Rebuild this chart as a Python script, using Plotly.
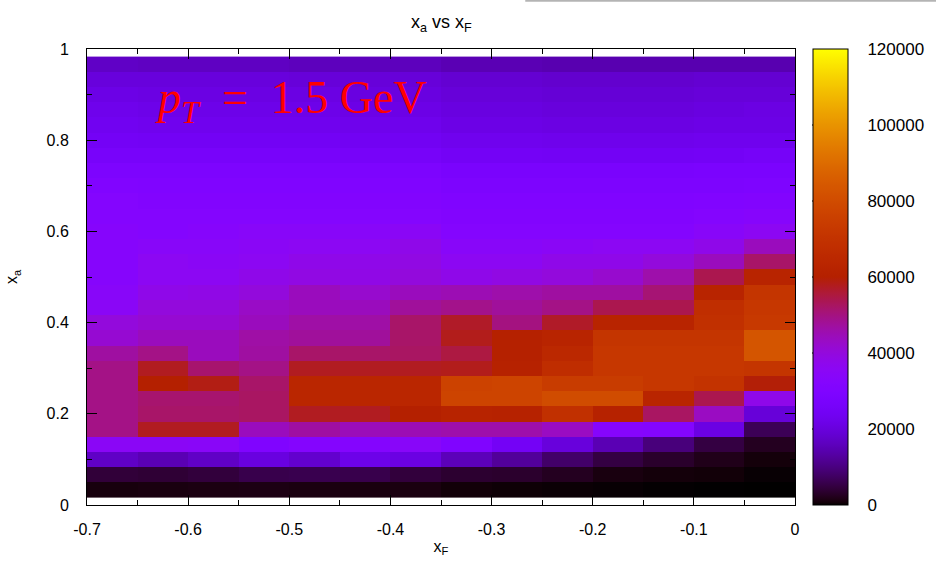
import numpy as np
import plotly.graph_objects as go

# ---------------- data ----------------
xF_centers = [-0.675, -0.625, -0.575, -0.525, -0.475, -0.425, -0.375,
              -0.325, -0.275, -0.225, -0.175, -0.125, -0.075, -0.025]
xa_centers = [k / 30 for k in range(1, 30)]

# counts, rows from x_a = 1/30 (bottom) to 29/30 (top), columns along x_F
counts = [
    [1000, 1100, 1300, 1400, 1200, 1100, 1200, 600, 470, 360, 265, 120, 66, 30],
    [4300, 4000, 4500, 5800, 6000, 5800, 4500, 3600, 3400, 2400, 1100, 740, 600, 265],
    [17000, 15000, 17000, 20500, 18000, 22000, 21000, 15600, 12400, 8000, 5000, 3300, 1900, 740],
    [35000, 35000, 34500, 30000, 32000, 32000, 34000, 30000, 24800, 20000, 15000, 9600, 5000, 2400],
    [49500, 57500, 57500, 44000, 47000, 44500, 45000, 46000, 46000, 43500, 33000, 32000, 21000, 6600],
    [49500, 52000, 52000, 52500, 57500, 57500, 60000, 62000, 61000, 69000, 61000, 52500, 43500, 19500],
    [49500, 51500, 51500, 52500, 63500, 63500, 63500, 77500, 77500, 80000, 80000, 63000, 54000, 38000],
    [49500, 60000, 58500, 52000, 63500, 63500, 63500, 76500, 77500, 74000, 74000, 72000, 70000, 59500],
    [49500, 57500, 51500, 49500, 57500, 57500, 57500, 58000, 61000, 67000, 72000, 72000, 72000, 71000],
    [47000, 49500, 44000, 47000, 52000, 52000, 52500, 55000, 60500, 65000, 72000, 72000, 72000, 83000],
    [41500, 44000, 44000, 46500, 47500, 47500, 52000, 58000, 60500, 62500, 71000, 71000, 71000, 83000],
    [40000, 41500, 41500, 44000, 46500, 46500, 52000, 57000, 50000, 57000, 62500, 62500, 69000, 73000],
    [35000, 40000, 40000, 43000, 44000, 44000, 47500, 49000, 47500, 49500, 54000, 54000, 68000, 72000],
    [34000, 38000, 38500, 40000, 44000, 42000, 44000, 45000, 46000, 47000, 47000, 51000, 62500, 71000],
    [33000, 36000, 36000, 38000, 39000, 38500, 40000, 38000, 39000, 40000, 42000, 46000, 54000, 62500],
    [33000, 36000, 35000, 36000, 38000, 38000, 39000, 36000, 36000, 38000, 38000, 40000, 44000, 52000],
    [33000, 34000, 34000, 35000, 36000, 36000, 38000, 34000, 34000, 35000, 36000, 36000, 38000, 44000],
    [33000, 32000, 33000, 34000, 34000, 34000, 35000, 32000, 32000, 32000, 32000, 32000, 34000, 36000],
    [32000, 32000, 32000, 32000, 32000, 32000, 32000, 31000, 31000, 31000, 31000, 31000, 32000, 33000],
    [32000, 31000, 31000, 31000, 31000, 31000, 31000, 30000, 30000, 30000, 30000, 30000, 30500, 31000],
    [30500, 30000, 30000, 30000, 30000, 30000, 30000, 28500, 28500, 28500, 28500, 28500, 29000, 29500],
    [29000, 29000, 29000, 29000, 29000, 29000, 29000, 27500, 27500, 27500, 27500, 27500, 28000, 28000],
    [26500, 26500, 26500, 26500, 26500, 26000, 26000, 25000, 25000, 24500, 24500, 24500, 25000, 25500],
    [25000, 24500, 24500, 24500, 24500, 24000, 24000, 23000, 23000, 22500, 22500, 22500, 23000, 23000],
    [23500, 23000, 23000, 23000, 23000, 22500, 22500, 21500, 21500, 21000, 21000, 21000, 21500, 21500],
    [22500, 22000, 22000, 22000, 22000, 21500, 21500, 20500, 20500, 20000, 20000, 20000, 20500, 21000],
    [21500, 21000, 21000, 21000, 21000, 20500, 20500, 19500, 19500, 19000, 19000, 19000, 19500, 19500],
    [20000, 20000, 20000, 20000, 19500, 19500, 19500, 18500, 18500, 18000, 18000, 18000, 18500, 18500],
    [17000, 16500, 16500, 16500, 16000, 16000, 16000, 15000, 15000, 14500, 14500, 14500, 14500, 14500],
]

x_tickvals = [-0.7, -0.6, -0.5, -0.4, -0.3, -0.2, -0.1, 0]
x_ticktext = ["-0.7", "-0.6", "-0.5", "-0.4", "-0.3", "-0.2", "-0.1", "0"]
y_tickvals = [0, 0.2, 0.4, 0.6, 0.8, 1]
y_ticktext = ["0", "0.2", "0.4", "0.6", "0.8", "1"]
cb_tickvals = [0, 20000, 40000, 60000, 80000, 100000, 120000]
cb_ticktext = ["0", "20000", "40000", "60000", "80000", "100000", "120000"]
zmax = 120000

# gnuplot default palette (rgbformulae 7,5,15)
def gp_color(t):
    r = np.sqrt(t)
    g = t ** 3
    b = max(0.0, np.sin(2 * np.pi * t))
    return "rgb(%d,%d,%d)" % (round(r * 255), round(g * 255), round(b * 255))

colorscale = [[i / 200, gp_color(i / 200)] for i in range(201)]

FONT = "Liberation Sans, Arial, Helvetica, sans-serif"

fig = go.Figure()
fig.add_trace(go.Heatmap(
    x=xF_centers, y=xa_centers, z=counts,
    colorscale=colorscale, zmin=0, zmax=zmax, zsmooth=False,
    colorbar=dict(
        x=1.024, xanchor="left", y=0.5, yanchor="middle",
        len=1, lenmode="fraction", thickness=35, xpad=0, ypad=0,
        outlinewidth=1, outlinecolor="black",
        tickvals=cb_tickvals, ticktext=cb_ticktext,
        ticks="outside", ticklen=16, tickcolor="rgba(0,0,0,0)",
        tickfont=dict(family=FONT, size=17, color="black"),
    ),
))

fig.update_xaxes(
    range=[-0.7, 0], tickvals=x_tickvals, ticktext=x_ticktext,
    ticks="inside", ticklen=10, tickwidth=1, tickcolor="black",
    minor=dict(dtick=0.05, tick0=0, ticks="inside", ticklen=5, tickcolor="black"),
    showline=True, linecolor="black", linewidth=1, mirror="allticks",
    showgrid=False, zeroline=False, ticklabelstandoff=10,
    tickfont=dict(family=FONT, size=16, color="black"),
    title=dict(text="x<sub>F</sub>", font=dict(family=FONT, size=16, color="black"), standoff=3),
)
fig.update_yaxes(
    range=[0, 1], tickvals=y_tickvals, ticktext=y_ticktext,
    ticks="inside", ticklen=10, tickwidth=1, tickcolor="black",
    minor=dict(dtick=0.1, tick0=0, ticks="inside", ticklen=5, tickcolor="black"),
    showline=True, linecolor="black", linewidth=1, mirror="allticks",
    showgrid=False, zeroline=False, ticklabelstandoff=14,
    tickfont=dict(family=FONT, size=16, color="black"),
    title=dict(text="x<sub>a</sub>", font=dict(family=FONT, size=16, color="black"), standoff=24),
)

# inside tick marks on both edges of the colour bar
cb_left = 1.024
cb_right = cb_left + 35 / 709
tk = 6 / 709
shapes = []
for v in cb_tickvals[1:-1]:
    yy = v / zmax
    shapes.append(dict(type="line", xref="paper", yref="paper", x0=cb_left, x1=cb_left + tk,
                       y0=yy, y1=yy, line=dict(color="black", width=1)))
    shapes.append(dict(type="line", xref="paper", yref="paper", x0=cb_right - tk, x1=cb_right,
                       y0=yy, y1=yy, line=dict(color="black", width=1)))
# faint grey rule at the very top of the page
shapes.append(dict(type="line", xref="paper", yref="paper", x0=0.619, x1=1.2,
                   y0=1.106, y1=1.106, line=dict(color="#b4b4b4", width=2)))

fig.update_layout(
    width=936, height=571, autosize=False,
    margin=dict(l=87, r=140, t=49, b=66),
    paper_bgcolor="white", plot_bgcolor="white",
    title=dict(text="x<sub>a</sub> vs x<sub>F</sub>", x=0.4715, xanchor="center",
               y=0.962, yanchor="middle", yref="container",
               font=dict(family=FONT, size=18, color="black")),
    shapes=shapes,
    annotations=[dict(
        text="<i>p</i><sub><i>T</i></sub>&nbsp;&nbsp;=&nbsp;&nbsp;1.5&nbsp;GeV",
        x=-0.635, y=0.885, xref="x", yref="y", xanchor="left", yanchor="middle",
        showarrow=False,
        font=dict(family="Liberation Serif, DejaVu Serif, serif", size=46, color="red"),
    )],
)

fig.write_html("out.html")
